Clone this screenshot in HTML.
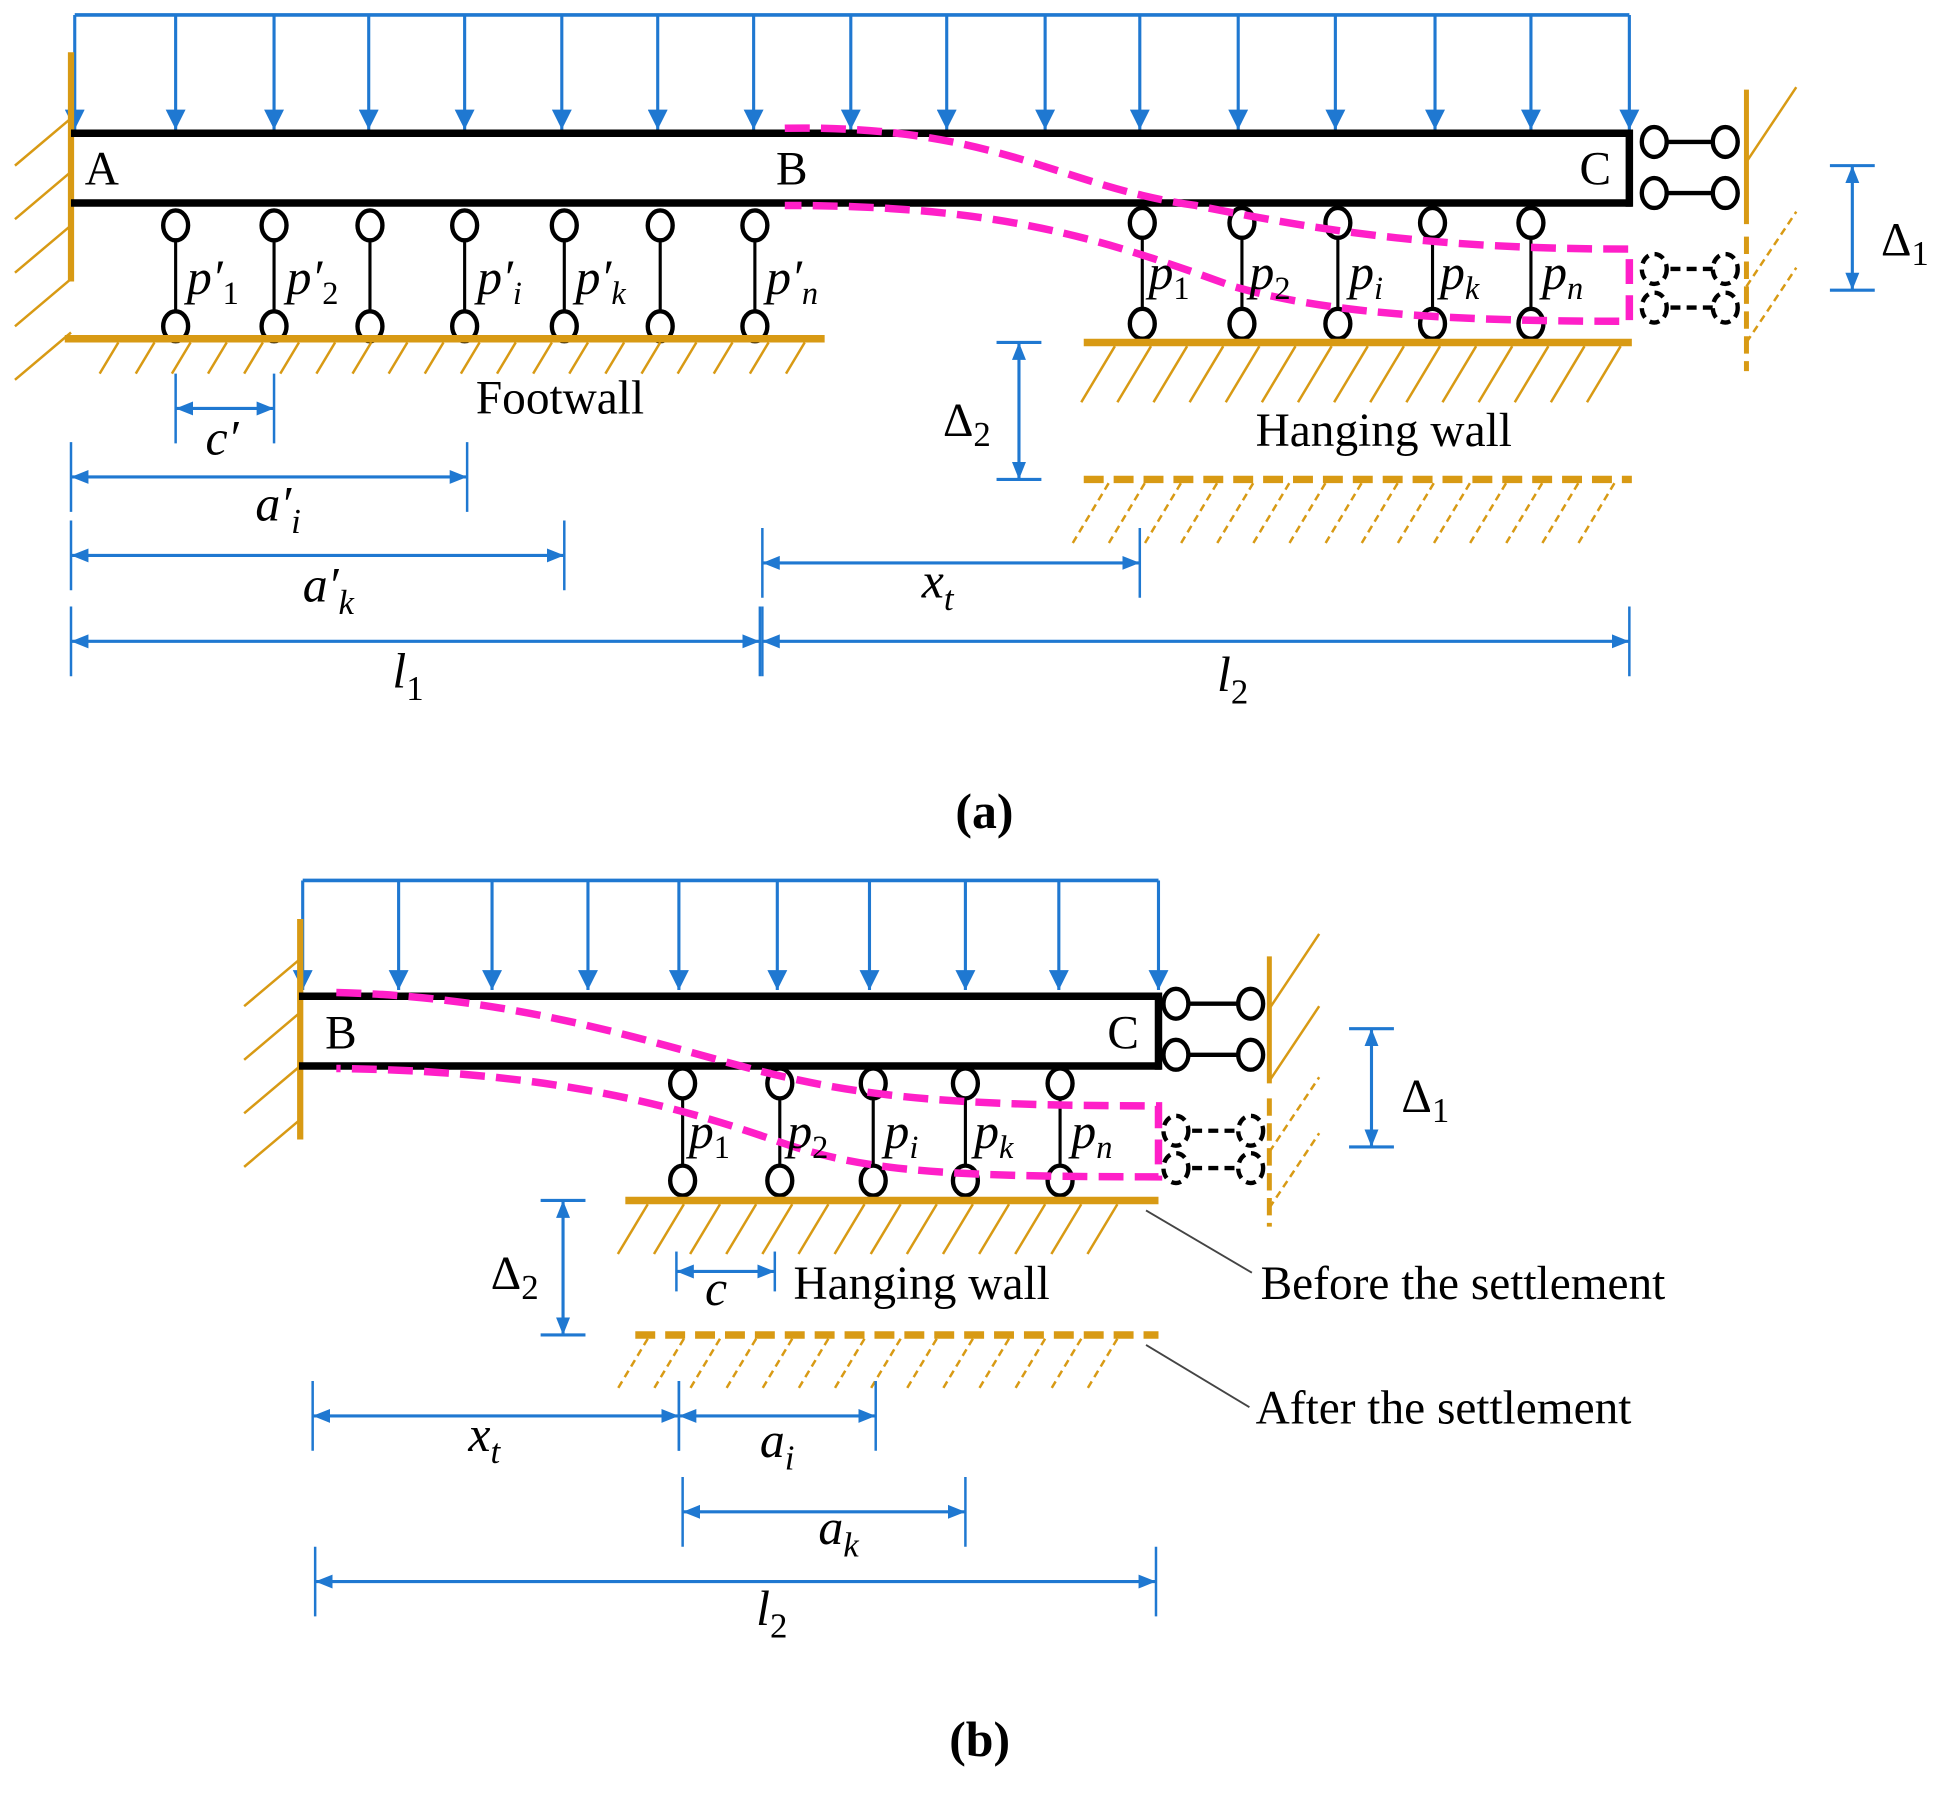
<!DOCTYPE html>
<html><head><meta charset="utf-8"><style>
html,body{margin:0;padding:0;background:#fff}
svg{display:block}
text{font-family:"Liberation Serif","DejaVu Serif",serif;fill:#000}
.m{font-style:italic;font-size:40px}
.t{font-size:38px}
</style></head><body>
<svg id="s" width="1947" height="1797" viewBox="0 0 1563 1443" preserveAspectRatio="none" xmlns="http://www.w3.org/2000/svg" font-family="Liberation Serif, DejaVu Serif, serif">
<defs>
<marker id="ah" viewBox="0 0 10 10" refX="10" refY="5" markerWidth="16" markerHeight="16" orient="auto-start-reverse" markerUnits="userSpaceOnUse"><path d="M0,0 L10,5 L0,10 z" fill="#1f78d1"/></marker>
<marker id="ad" viewBox="0 0 10 10" refX="10" refY="5" markerWidth="14" markerHeight="14" orient="auto-start-reverse" markerUnits="userSpaceOnUse"><path d="M0,1 L10,5 L0,9 z" fill="#1f78d1"/></marker>
</defs>
<g id="g"></g>
<g font-family="Liberation Serif, DejaVu Serif, serif">
<text x="68" y="148" class="t">A</text>
<text x="623" y="148" class="t">B</text>
<text x="1268" y="148" class="t">C</text>
<text x="150" y="236" class="m">p′<tspan font-size="26" dy="8" font-style="normal">1</tspan></text>
<text x="230" y="236" class="m">p′<tspan font-size="26" dy="8" font-style="normal">2</tspan></text>
<text x="383" y="236" class="m">p′<tspan font-size="26" dy="8">i</tspan></text>
<text x="462" y="236" class="m">p′<tspan font-size="26" dy="8">k</tspan></text>
<text x="615" y="236" class="m">p′<tspan font-size="26" dy="8">n</tspan></text>
<text x="922" y="232" class="m">p<tspan font-size="26" dy="8" font-style="normal">1</tspan></text>
<text x="1003" y="232" class="m">p<tspan font-size="26" dy="8" font-style="normal">2</tspan></text>
<text x="1083" y="232" class="m">p<tspan font-size="26" dy="8">i</tspan></text>
<text x="1156" y="232" class="m">p<tspan font-size="26" dy="8">k</tspan></text>
<text x="1238" y="232" class="m">p<tspan font-size="26" dy="8">n</tspan></text>
<text x="382" y="332" class="t">Footwall</text>
<text x="1008" y="358" class="t">Hanging wall</text>
<text x="757" y="350" class="t">Δ<tspan font-size="28" dy="8">2</tspan></text>
<text x="1510" y="205" class="t">Δ<tspan font-size="28" dy="8">1</tspan></text>
<text x="165" y="365" class="m">c′</text>
<text x="205" y="418" class="m">a′<tspan font-size="28" dy="10">i</tspan></text>
<text x="243" y="483" class="m">a′<tspan font-size="28" dy="10">k</tspan></text>
<text x="740" y="480" class="m">x<tspan font-size="28" dy="10">t</tspan></text>
<text x="315" y="552" class="m">l<tspan font-size="28" dy="10" font-style="normal">1</tspan></text>
<text x="977" y="555" class="m">l<tspan font-size="28" dy="10" font-style="normal">2</tspan></text>
<text x="767" y="665" font-size="40" font-weight="bold">(a)</text>
<text x="261" y="842" class="t">B</text>
<text x="889" y="842" class="t">C</text>
<text x="553" y="922" class="m">p<tspan font-size="26" dy="8" font-style="normal">1</tspan></text>
<text x="632" y="922" class="m">p<tspan font-size="26" dy="8" font-style="normal">2</tspan></text>
<text x="710" y="922" class="m">p<tspan font-size="26" dy="8">i</tspan></text>
<text x="782" y="922" class="m">p<tspan font-size="26" dy="8">k</tspan></text>
<text x="860" y="922" class="m">p<tspan font-size="26" dy="8">n</tspan></text>
<text x="394" y="1035" class="t">Δ<tspan font-size="28" dy="8">2</tspan></text>
<text x="1125" y="893" class="t">Δ<tspan font-size="28" dy="8">1</tspan></text>
<text x="566" y="1048" class="m">c</text>
<text x="637" y="1043" class="t">Hanging wall</text>
<text x="1012" y="1043" class="t">Before the settlement</text>
<text x="1008" y="1143" class="t">After the settlement</text>
<text x="376" y="1165" class="m">x<tspan font-size="28" dy="10">t</tspan></text>
<text x="610" y="1170" class="m">a<tspan font-size="28" dy="10">i</tspan></text>
<text x="657" y="1240" class="m">a<tspan font-size="28" dy="10">k</tspan></text>
<text x="607" y="1305" class="m">l<tspan font-size="28" dy="10" font-style="normal">2</tspan></text>
<text x="762" y="1410" font-size="40" font-weight="bold">(b)</text>
</g>
</svg>
<script>
var g=document.getElementById('g'),h='';
var B='#1f78d1',O='#d89a14',M='#ff1fc8';
function L(x1,y1,x2,y2,c,w,ex){h+='<line x1="'+x1+'" y1="'+y1+'" x2="'+x2+'" y2="'+y2+'" stroke="'+c+'" stroke-width="'+w+'" '+(ex||'')+'/>';}
function E(x,y,d){h+='<ellipse cx="'+x+'" cy="'+y+'" rx="10" ry="12" fill="#fff" stroke="#000" stroke-width="3.5" '+(d?'stroke-dasharray="8 5"':'')+'/>';}
function load(x0,x1,y0,y1,xs){L(x0,y0,x1,y0,B,3);xs.forEach(function(x){L(x,y0,x,y1,B,2.5,'marker-end="url(#ah)"');});}
function hatch(x0,x1,y0,len,step,d){for(var x=x0;x<=x1;x+=step)L(x,y0,x-len*0.6,y0+len,O,2,d?'stroke-dasharray="6 4"':'');}
function whatchL(x,y0,y1,step){for(var y=y0;y<=y1;y+=step)L(x,y,x-45,y+38,O,2);}
function whatch(x,y0,y1,side,step,d){for(var y=y0;y<=y1;y+=step)L(x,y,x+side*40,y-60,O,2,d?'stroke-dasharray="6 4"':'');}
function dim(x0,x1,y){L(x0,y,x1,y,B,2.5,'marker-start="url(#ad)" marker-end="url(#ad)"');L(x0,y-28,x0,y+28,B,2);L(x1,y-28,x1,y+28,B,2);}
function vdim(x,y0,y1){L(x,y0,x,y1,B,2.5,'marker-start="url(#ad)" marker-end="url(#ad)"');L(x-18,y0,x+18,y0,B,2.5);L(x-18,y1,x+18,y1,B,2.5);}
function spring(x,ya,yb,d){L(x,ya,x,yb,'#000',2.5);E(x,ya,d);E(x,yb,d);}
function link(x0,x1,y,d){L(x0,y,x1,y,'#000',3.5,d?'stroke-dasharray="8 5"':'');E(x0,y,d);E(x1,y,d);}
// panel a
load(60,1308,12,104,[60,141,220,296,373,451,528,605,683,760,839,915,994,1072,1152,1229,1308]);
whatchL(57,95,275,43);
L(57,42,57,226,O,5);
L(57,107,1310,107,'#000',6);L(57,163,1310,163,'#000',6);L(1308,104,1308,166,'#000',6);
[141,220,297,373,453,530,606].forEach(function(x){spring(x,181,262);});
[917,997,1074,1150,1229].forEach(function(x){spring(x,179,260);});
h+='<path d="M630,103 C800,100 850,150 960,165 C1060,185 1150,200 1308,200 L1308,258 C1150,258 1060,250 990,230 C880,190 800,165 630,165" fill="none" stroke="'+M+'" stroke-width="6" stroke-dasharray="20 9"/>';
L(52,272,662,272,O,6);hatch(95,660,275,25,29);
L(870,275,1310,275,O,6);hatch(895,1310,278,45,29);
L(870,385,1310,385,O,6,'stroke-dasharray="16 8"');hatch(890,1310,388,48,29,1);
link(1328,1385,114);link(1328,1385,155);
L(1402,72,1402,180,O,4);whatch(1402,130,180,1,58);
link(1328,1385,216,1);link(1328,1385,247,1);
L(1402,190,1402,298,O,4,'stroke-dasharray="14 6"');whatch(1402,230,300,1,45,1);
vdim(1487,133,233);
vdim(818,275,385);
dim(141,220,328);dim(57,375,383);dim(57,453,446);dim(612,915,452);dim(57,610,515);dim(612,1308,515);
// panel b
load(243,930,707,795,[243,320,395,472,545,624,698,775,850,930]);
whatchL(241,770,910,43);
L(241,738,241,915,O,5);
L(240,800,932,800,'#000',6);L(240,856,932,856,'#000',6);L(930,797,930,859,'#000',6);
[548,626,701,775,851].forEach(function(x){spring(x,870,948);});
h+='<path d="M270,797 C400,800 500,830 580,852 C680,880 750,888 930,888 L930,945 C750,945 690,940 620,915 C520,880 420,860 270,858" fill="none" stroke="'+M+'" stroke-width="6" stroke-dasharray="20 9"/>';
L(502,964,930,964,O,6);hatch(520,918,967,40,29);
L(510,1072,930,1072,O,6,'stroke-dasharray="16 8"');hatch(520,918,1075,40,29,1);
link(944,1004,806);link(944,1004,847);
L(1019,768,1019,870,O,4);whatch(1019,810,880,1,58);
link(944,1004,908,1);link(944,1004,938,1);
L(1019,882,1019,985,O,4,'stroke-dasharray="14 6"');whatch(1019,925,990,1,45,1);
vdim(1101,826,921);
vdim(452,964,1072);
L(920,972,1005,1022,'#444',1.5);L(920,1080,1003,1130,'#444',1.5);
L(543,1021,622,1021,B,2.5,'marker-start="url(#ad)" marker-end="url(#ad)"');L(543,1005,543,1037,B,2);L(622,1005,622,1037,B,2);
dim(251,545,1137);dim(545,703,1137);dim(548,775,1214);dim(253,928,1270);
g.innerHTML=h;
</script>
</body></html>
